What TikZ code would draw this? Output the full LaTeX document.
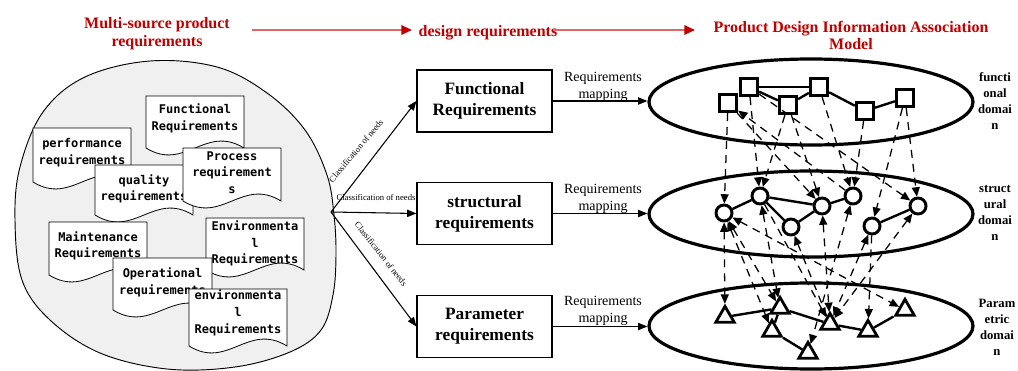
\documentclass[tikz,border=0pt]{standalone}
\usepackage{fontspec}
\setmainfont{Liberation Serif}
\newfontfamily\docfont{DejaVu Sans Mono}
\usetikzlibrary{arrows.meta,shapes.geometric}
\definecolor{titlered}{RGB}{192,0,0}
\definecolor{arrowred}{RGB}{222,104,104}
\definecolor{blobgray}{RGB}{240,240,240}
\newcommand\reqdoc[7]{%
  \draw[docline] (#2,#3) -- ({#2+#4},#3) -- ({#2+#4},{#3+#5})
    .. controls ({#2+0.6*#4},{#3+#5-24}) and ({#2+0.4*#4},{#3+#5+24}) .. (#2,{#3+#5}) -- cycle;
  \node[doctext] (#1) at ({#2+0.5*#4},#6) {#7};
}
\begin{document}
\begin{tikzpicture}[x=0.75pt,y=-0.75pt,
  docline/.style={draw=black, fill=white, line width=0.6pt},
  doctext/.style={font=\docfont\bfseries\fontsize{9}{12.5}\selectfont, align=center, inner sep=0pt},
  titletext/.style={font=\bfseries\fontsize{12}{13}\selectfont, text=titlered, align=center, inner sep=0pt},
  titlearrow/.style={line width=1.5pt, draw=arrowred, -{Triangle[length=8pt,width=7pt,color=titlered]}},
  reqbox/.style={draw, line width=1.1pt, minimum width=101pt, minimum height=46.5pt, align=center, font=\bfseries\fontsize{13}{16}\selectfont, inner sep=0pt},
  flowarrow/.style={line width=0.8pt, -{Triangle[length=7pt,width=5.5pt]}},
  classlabel/.style={font=\fontsize{6.5}{7}\selectfont, inner sep=0pt},
  maplabel/.style={font=\fontsize{10.5}{12.75}\selectfont, align=center, inner sep=0pt},
  domainell/.style={draw, ellipse, line width=2.4pt, minimum width=243pt, minimum height=64.5pt, inner sep=0pt},
  domainlabel/.style={font=\bfseries\fontsize{9.5}{12}\selectfont, align=center, inner sep=0pt},
  fsq/.style={draw, fill=white, line width=2.2pt, minimum size=13pt, inner sep=0pt},
  scirc/.style={draw, fill=white, circle, line width=2.2pt, minimum size=12pt, inner sep=0pt},
  ptri/.style={draw, fill=white, regular polygon, regular polygon sides=3, line width=2.1pt, minimum size=16pt, inner sep=0pt},
  link/.style={line width=1.8pt},
  assoc/.style={dash pattern=on 6pt off 4.5pt, line width=0.95pt, -{Triangle[length=7pt,width=6pt]}},
  assocb/.style={dash pattern=on 6pt off 4.5pt, line width=0.95pt, {Triangle[length=7pt,width=6pt]}-{Triangle[length=7pt,width=6pt]}}
]
\useasboundingbox (0,0) rectangle (1018,371);
\fill[white] (0,0) rectangle (1018,371);

% titles
\node[titletext] (t1) at (157,33.5) {Multi-source product\\requirements};
\node[titletext] (t2) at (488,33) {design requirements};
\node[titletext] (t3) at (851,35.5) {Product Design Information Association\\Model};
\coordinate (a1s) at (252,30);
\coordinate (a1e) at (412,30);
\coordinate (a2s) at (553,30);
\coordinate (a2e) at (695,30);
\draw[titlearrow] (a1s) -- (a1e);
\draw[titlearrow] (a2s) -- (a2e);

% blob
\draw[line width=0.7pt, fill=blobgray] plot[smooth cycle, tension=0.6] coordinates {
 (150,61) (217,67) (267,93) (305,130) (327,175) (334,215) (336,255) (333,295)
 (321,330) (290,352) (235,367) (167,369) (100,353) (50,320) (22,280) (15,220)
 (20,167) (43,112) (85,77)};

% documents
\reqdoc{d1}{146}{96}{98}{52}{118.5}{Functional\\Requirements}
\reqdoc{d2}{33}{128}{98}{54}{152.5}{performance\\requirements}
\reqdoc{d3}{95}{165}{98}{50}{189}{quality\\requirements}
\reqdoc{d4}{183}{148}{98}{53}{172.5}{Process\\requirement\\s}
\reqdoc{d5}{49}{222}{98}{53}{246}{Maintenance\\Requirements}
\reqdoc{d6}{206}{218}{98}{52}{243.5}{Environmenta\\l\\Requirements}
\reqdoc{d7}{113}{258}{99}{52}{282.5}{Operational\\requirements}
\reqdoc{d8}{189}{289}{98}{57}{313}{environmenta\\l\\Requirements}

% design requirement boxes
\node[reqbox] (F) at (484.5,101) {Functional\\Requirements};
\node[reqbox] (St) at (484.5,213.5) {structural\\requirements};
\node[reqbox] (P) at (484.5,326.5) {Parameter\\requirements};

\coordinate (src) at (331,212);
\draw[flowarrow] (src) -- (F.west);
\draw[flowarrow] (src) -- (St.west);
\draw[flowarrow] (src) -- (P.west);
\node[classlabel, rotate=50] (cl1) at (356,151) {Classification of needs};
\node[classlabel] (cl2) at (376,197) {Classification of needs};
\node[classlabel, rotate=-52] (cl3) at (381,254) {Classification of needs};

% domain ellipses
\node[domainell] (E1) at (811,102) {};
\node[domainell] (E2) at (811,214) {};
\node[domainell] (E3) at (811,326) {};

\draw[flowarrow] (F.east) -- (F.east -| E1.west);
\draw[flowarrow] (St.east) -- (St.east -| E2.west);
\draw[flowarrow] (P.east) -- (P.east -| E3.west);
\node[maplabel] (m1) at (603,86.5) {Requirements\\mapping};
\node[maplabel] (m2) at (603,199) {Requirements\\mapping};
\node[maplabel] (m3) at (603,311) {Requirements\\mapping};

\node[domainlabel] (dl1) at (995,101) {functi\\onal\\domai\\n};
\node[domainlabel] (dl2) at (995,213) {struct\\ural\\domai\\n};
\node[domainlabel] (dl3) at (997,327) {Param\\etric\\domai\\n};

% functional domain nodes
\node[fsq] (S1) at (728,103) {};
\node[fsq] (S2) at (749,87) {};
\node[fsq] (S3) at (788,105) {};
\node[fsq] (S4) at (819,87) {};
\node[fsq] (S5) at (865,111) {};
\node[fsq] (S6) at (905,98) {};
% structural domain nodes
\node[scirc] (C1) at (724,213) {};
\node[scirc] (C2) at (760,196) {};
\node[scirc] (C3) at (791,227) {};
\node[scirc] (C4) at (822,206) {};
\node[scirc] (C5) at (853,196) {};
\node[scirc] (C6) at (872,226) {};
\node[scirc] (C7) at (918,206) {};
% parametric domain nodes
\node[ptri] (T1) at (725,317) {};
\node[ptri] (T2) at (780,308) {};
\node[ptri] (T3) at (772,331) {};
\node[ptri] (T4) at (830,324) {};
\node[ptri] (T5) at (808,353) {};
\node[ptri] (T6) at (868,331) {};
\node[ptri] (T7) at (905,310) {};

% solid links
\draw[link] (S2) -- (S4);
\draw[link] (S2) -- (S3);
\draw[link] (S3) -- (S4);
\draw[link] (S4) -- (S5);
\draw[link] (S5) -- (S6);
\draw[link] (C1) -- (C2);
\draw[link] (C2) -- (C3);
\draw[link] (C2) -- (C4);
\draw[link] (C3) -- (C4);
\draw[link] (C4) -- (C5);
\draw[link] (C6) -- (C7);
\draw[link] (T1) -- (T2);
\draw[link] (T2) -- (T3);
\draw[link] (T2) -- (T4);
\draw[link] (T3) -- (T5);
\draw[link] (T4) -- (T6);
\draw[link] (T6) -- (T7);

% dashed associations functional -> structural
\draw[assoc] (S1) -- (C1);
\draw[assoc] (S2) -- (C2);
\draw[assoc] (S3) -- (C2);
\draw[assoc] (S1) -- (C4);
\draw[assoc] (S3) -- (C4);
\draw[assoc] (S4) -- (C5);
\draw[assoc] (S5) -- (C5);
\draw[assoc] (S2) -- (C7);
\draw[assoc] (S6) -- (C6);
\draw[assoc] (S6) -- (C7);
\draw[assoc] (C5) -- (S1);
% structural -> parametric
\draw[assocb] (C1) -- (T1);
\draw[assocb] (C1) -- (T2);
\draw[assocb] (C1) -- (T3);
\draw[assocb] (C1) -- (T7);
\draw[assocb] (C2) -- (T2);
\draw[assoc] (C2) -- (T4);
\draw[assoc] (T4) -- (C3);
\draw[assocb] (C4) -- (T4);
\draw[assocb] (C5) -- (T5);
\draw[assocb] (C6) -- (T4);
\draw[assocb] (C7) -- (T4);
\draw[assoc] (C6) -- (T6);
\end{tikzpicture}
\end{document}
